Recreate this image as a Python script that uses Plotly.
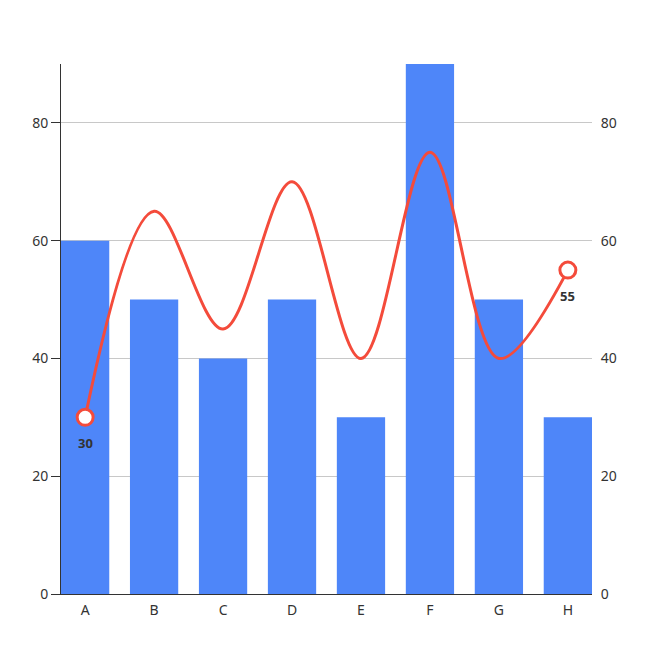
import plotly.graph_objects as go

categories = ["A", "B", "C", "D", "E", "F", "G", "H"]
bar_values = [60, 50, 40, 50, 30, 90, 50, 30]
line_values = [30, 65, 45, 70, 40, 75, 40, 55]
y_ticks = [0, 20, 40, 60, 80]

bar_color = "#4e86f9"
line_color = "#f44b3b"

fig = go.Figure()
fig.add_trace(go.Bar(x=categories, y=bar_values, marker_color=bar_color,
                     marker_line_width=0, showlegend=False, hoverinfo="skip"))
fig.add_trace(go.Scatter(x=categories, y=line_values, mode="lines",
                         line=dict(color=line_color, width=3, shape="spline", smoothing=1),
                         yaxis="y2", showlegend=False))

# only the first and last points get a marker and a label
ends_x = [categories[0], categories[-1]]
ends_y = [line_values[0], line_values[-1]]
fig.add_trace(go.Scatter(x=ends_x, y=ends_y, mode="markers",
                         marker=dict(size=16, color="white", line=dict(color=line_color, width=3)),
                         yaxis="y2", showlegend=False, cliponaxis=False))
for x, y in zip(ends_x, ends_y):
    fig.add_annotation(x=x, y=y, yref="y2", text="<b>%d</b>" % y, showarrow=False,
                       yshift=-26, font=dict(size=13, color="#333333"))

# page body adds 8px, so the figure is a bit smaller than the window
fig.update_layout(
    width=647, height=650,
    margin=dict(l=53, r=63, t=56, b=64, autoexpand=False),
    plot_bgcolor="white", paper_bgcolor="white",
    font=dict(family="Noto Sans", size=14, color="#333333"),
    bargap=0.3,
    xaxis=dict(range=[-0.35, 7.35], showline=True, linecolor="#333333", linewidth=1,
               ticks="outside", ticklen=3, tickcolor="rgba(0,0,0,0)",
               showgrid=False, zeroline=False, automargin=False),
    yaxis=dict(range=[0, 90], tickvals=y_ticks, showline=True, linecolor="#333333",
               linewidth=1, ticks="outside", ticklen=9, tickcolor="#333333",
               showgrid=True, gridcolor="#c8c8c8", zeroline=False, automargin=False),
    yaxis2=dict(range=[0, 90], tickvals=y_ticks, overlaying="y", side="right",
                showgrid=False, showline=False, ticks="outside", ticklen=5,
                tickcolor="rgba(0,0,0,0)", zeroline=False, automargin=False),
)

fig.write_html("out.html")
